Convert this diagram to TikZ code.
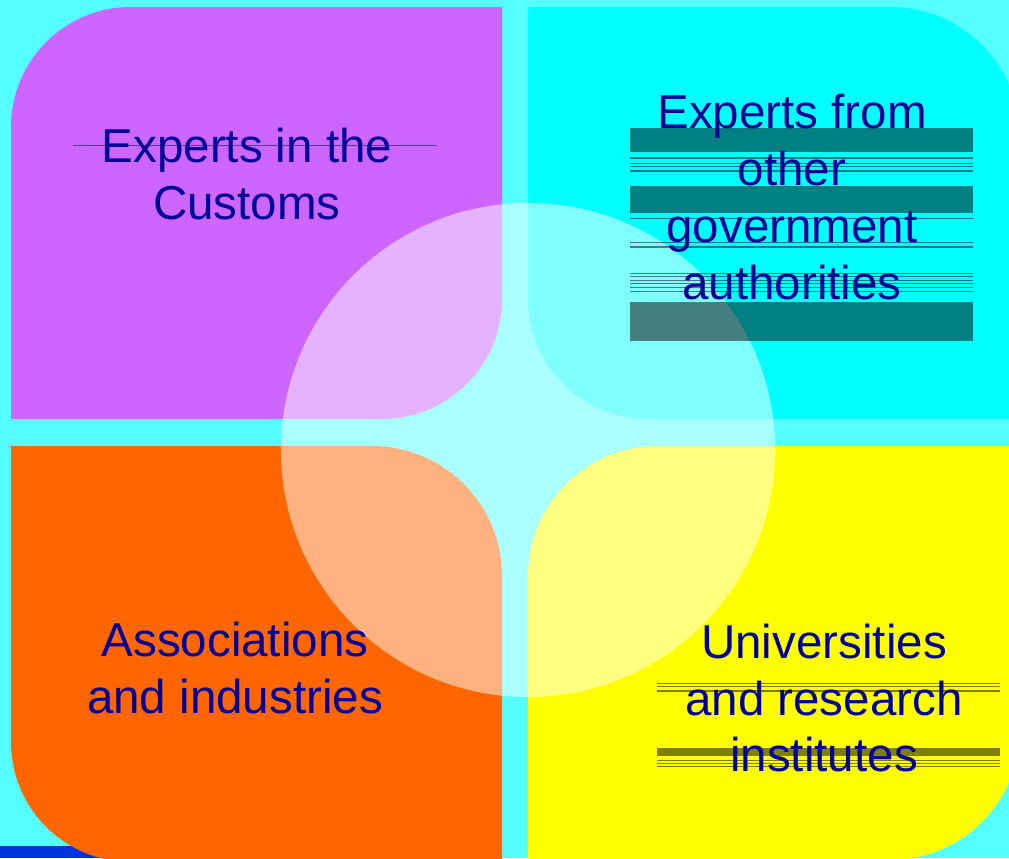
\documentclass[tikz,border=0pt]{standalone}
\usepackage{fontspec}
\setmainfont{Liberation Sans}
\usetikzlibrary{positioning}
\definecolor{bgcyan}{HTML}{55FFFF}
\definecolor{custpurple}{HTML}{CC66FF}
\definecolor{govcyan}{HTML}{00FFFF}
\definecolor{assocorange}{HTML}{FF6600}
\definecolor{univyellow}{HTML}{FFFF00}
\definecolor{txtblue}{HTML}{000099}
\definecolor{stripblue}{HTML}{0033DD}
\definecolor{bandteal}{HTML}{008080}
\definecolor{bandteallt}{HTML}{467F7F}
\definecolor{bandolive}{HTML}{808000}
\definecolor{strikeline}{HTML}{5A3C8C}
\newcommand{\tealbands}{128/152,186/213,302/341,157/158.5,163/164,166/167,170/171.5,218/219,242/243,246/247.5,273/274,276/277,280/281,283/284,287/288,291/292}

\begin{document}
\begin{tikzpicture}[x=0.025cm,y=-0.025cm,
  lbl/.style={text=txtblue,align=center,inner sep=0pt,font=\fontsize{33.8}{40.5}\selectfont}]
\useasboundingbox (0,0) rectangle (1009,858);
\clip (0,0) rectangle (1009,858);
\fill [bgcyan] (0,0) rectangle (1009,858);
\fill [stripblue] (0,846) rectangle (200,858);
% four quadrants
\fill [custpurple] (11,419) [rounded corners=3cm] -- (11,7) [sharp corners] -- (502,7) [rounded corners=3cm] -- (502,419) [sharp corners] -- cycle;
\fill [govcyan] (528,7) [rounded corners=3.25cm] -- (1020,7) [sharp corners] -- (1020,419) [rounded corners=3cm] -- (528,419) [sharp corners] -- cycle;
\fill [assocorange] (11,446) [rounded corners=3.25cm] -- (502,446) [sharp corners] -- (502,862) [rounded corners=3cm] -- (11,862) [sharp corners] -- cycle;
\fill [univyellow] (528,860) [rounded corners=3.25cm] -- (528,446) [sharp corners] -- (1020,446) [rounded corners=3.25cm] -- (1020,860) [sharp corners] -- cycle;
% centre circle
\fill [white,fill opacity=0.5] (528,450) circle (6.175cm);
% bands behind the texts
\foreach \ya/\yb in \tealbands
  \fill [bandteal] (630,\ya) rectangle (973,\yb);
\begin{scope}
  \clip (528,450) circle (6.175cm);
  \foreach \ya/\yb in \tealbands
    \fill [bandteallt] (630,\ya) rectangle (973,\yb);
\end{scope}
\foreach \ya/\yb in {683/684,686/687,690/691.5,748/756,760/761,763/764,766/767}
  \fill [bandolive] (657,\ya) rectangle (1000,\yb);
\draw [strikeline,line width=0.5pt] (73,145) -- (437,145);
% labels
\node [lbl] (customs) at (247,174) {Experts in the\\Customs};
\node [lbl] (govt) at (792,197) {Experts from\\other\\government\\authorities};
\node [lbl] (assoc) at (235,668) {Associations\\and industries};
\node [lbl] (univ) at (824,698) {Universities\\and research\\institutes};
\end{tikzpicture}
\end{document}
